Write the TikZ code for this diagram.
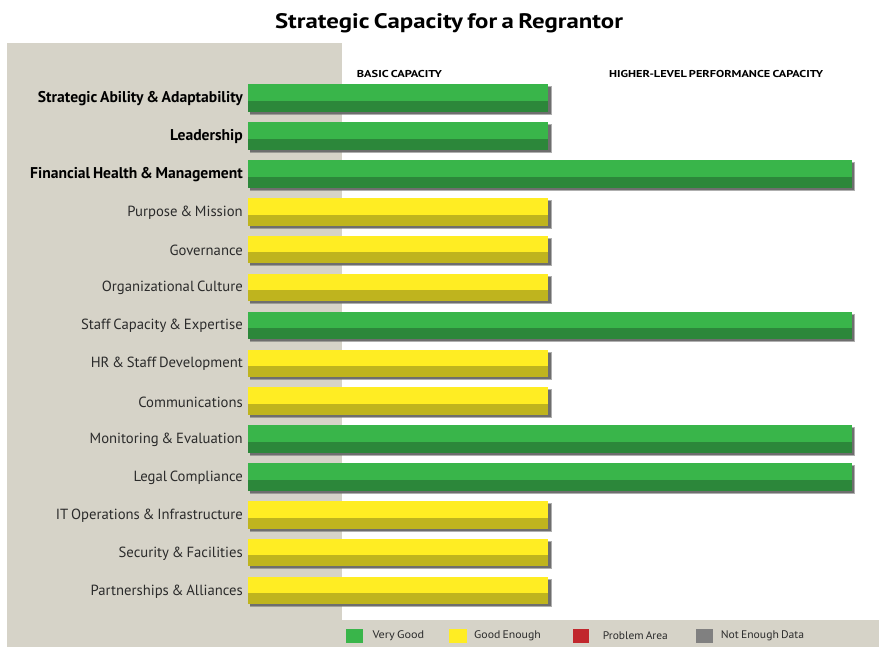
\documentclass[tikz,border=0pt]{standalone}
\usepackage{fontspec}
\usepackage{graphicx}
\setmainfont{PT Sans}[WordSpace=0.7]
\definecolor{panel}{HTML}{D6D3C8}
\definecolor{glight}{HTML}{39B54A}
\definecolor{gdark}{HTML}{2C873A}
\definecolor{ylight}{HTML}{FFED23}
\definecolor{ydark}{HTML}{BFB41E}
\definecolor{pred}{HTML}{C1272D}
\definecolor{pgray}{HTML}{808080}
\definecolor{shad}{HTML}{6E6E6E}
\definecolor{lbltext}{HTML}{2B2B2B}
\newcommand\fitw[2]{\resizebox{#1}{\height}{#2}}
\newcommand\capbar[4]{%
  \fill[shad,opacity=0.55] (249.5,#1-12) rectangle (#2+3.5,#1+16.5);
  \fill[shad] (250,#1-11) rectangle (#2+2.5,#1+15.5);
  \fill[#3] (247.5,#1-14) rectangle (#2,#1+2.5);
  \fill[#4] (247.5,#1+2.5) rectangle (#2,#1+13.5);
}
\tikzset{
  lbl/.style={anchor=east, inner sep=0pt, text=lbltext, font=\fontsize{14.7}{15}\selectfont},
  blbl/.style={anchor=east, inner sep=0pt, text=black, font=\fontsize{15.6}{16}\selectfont\bfseries},
  hdr/.style={anchor=west, inner sep=0pt, font=\fontsize{10}{11}\selectfont\bfseries},
  leg/.style={anchor=west, inner sep=0pt, text=lbltext, font=\fontsize{11}{12}\selectfont},
}
\begin{document}
\begin{tikzpicture}[x=1pt,y=-1pt]
\useasboundingbox (0,0) rectangle (879,647);
\fill[white] (0,0) rectangle (879,647);
\fill[panel] (7,42.7) rectangle (879,647);
\fill[white] (341.7,42.7) rectangle (879,620);
% title
\node[inner sep=0pt, anchor=base] (title) at (449,29) {\fitw{348pt}{\fontsize{21}{22}\selectfont\bfseries Strategic Capacity for a Regrantor}};
% headers
\node[hdr, anchor=base west] (h1) at (356.7,77.7) {\fitw{85pt}{BASIC CAPACITY}};
\node[hdr, anchor=base west] (h2) at (609,77.7) {\fitw{214pt}{HIGHER-LEVEL PERFORMANCE CAPACITY}};
% bars
\capbar{98.5}{548.3}{glight}{gdark}
\capbar{136.37}{548.3}{glight}{gdark}
\capbar{174.24}{851.7}{glight}{gdark}
\capbar{212.11}{548.3}{ylight}{ydark}
\capbar{249.98}{548.3}{ylight}{ydark}
\capbar{287.85}{548.3}{ylight}{ydark}
\capbar{325.72}{851.7}{glight}{gdark}
\capbar{363.59}{548.3}{ylight}{ydark}
\capbar{401.46}{548.3}{ylight}{ydark}
\capbar{439.33}{851.7}{glight}{gdark}
\capbar{477.2}{851.7}{glight}{gdark}
\capbar{515.07}{548.3}{ylight}{ydark}
\capbar{552.94}{548.3}{ylight}{ydark}
\capbar{590.81}{548.3}{ylight}{ydark}
% labels
\node[blbl] (l0) at (243,99) {Strategic Ability \& Adaptability};
\node[blbl] (l1) at (243,136.9) {Leadership};
\node[blbl] (l2) at (243,174.7) {Financial Health \& Management};
\node[lbl] (l3) at (243,212.6) {Purpose \& Mission};
\node[lbl] (l4) at (243,250.5) {Governance};
\node[lbl] (l5) at (243,288.3) {Organizational Culture};
\node[lbl] (l6) at (243,326.2) {Staff Capacity \& Expertise};
\node[lbl] (l7) at (243,364.1) {HR \& Staff Development};
\node[lbl] (l8) at (243,402) {Communications};
\node[lbl] (l9) at (243,439.8) {Monitoring \& Evaluation};
\node[lbl] (l10) at (243,477.7) {Legal Compliance};
\node[lbl] (l11) at (243,515.6) {IT Operations \& Infrastructure};
\node[lbl] (l12) at (243,553.4) {Security \& Facilities};
\node[lbl] (l13) at (243,591.3) {Partnerships \& Alliances};
% legend
\fill[glight] (346,629.3) rectangle (362.7,642.7);
\fill[ylight] (449.3,629.3) rectangle (466.7,642.7);
\fill[pred] (572.7,629.3) rectangle (589,642.7);
\fill[pgray] (696,629.3) rectangle (713,642.7);
\node[leg] (k1) at (372.3,635.8) {\fitw{51.7pt}{Very Good}};
\node[leg] (k2) at (474,635.8) {\fitw{66.7pt}{Good Enough}};
\node[leg] (k3) at (602.7,635.8) {\fitw{65pt}{Problem Area}};
\node[leg] (k4) at (720.7,635.8) {\fitw{83.3pt}{Not Enough Data}};
\end{tikzpicture}
\end{document}
